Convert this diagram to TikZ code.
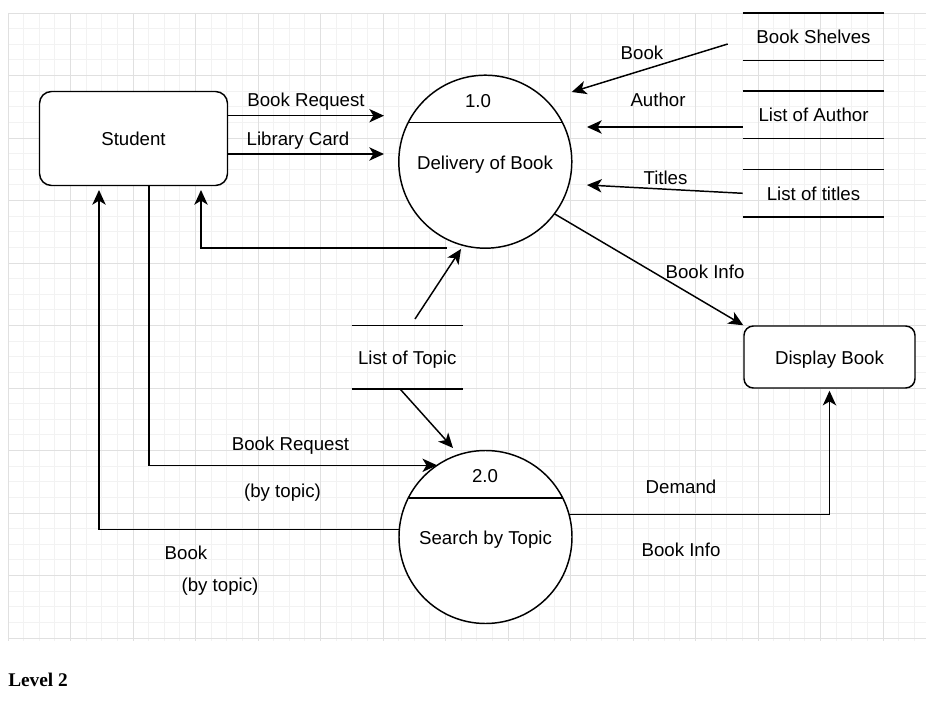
\documentclass[tikz,border=0pt]{standalone}
\usepackage{fontspec}
\setmainfont{Liberation Sans}
\newfontfamily\levelfont{Liberation Serif}
\usetikzlibrary{arrows.meta}
\definecolor{gridminor}{HTML}{F2F2F2}
\definecolor{gridmajor}{HTML}{E0E0E0}
\tikzset{
  minorline/.style={gridminor, line width=0.6pt},
  majorline/.style={gridmajor, line width=0.7pt},
  flow/.style={-{Stealth[length=11pt, width=10pt, inset=3pt]}, line width=1.1pt},
  entity/.style={draw, fill=white, rounded corners=9pt, line width=1.1pt},
  process/.style={draw, fill=white, circle, minimum size=129.75pt, inner sep=0pt, outer sep=0pt, line width=1.1pt},
  storeline/.style={draw, line width=1.1pt},
  store/.style={minimum width=105.75pt, minimum height=35.25pt, inner sep=0pt,
    append after command={(\tikzlastnode.north west) edge[storeline] (\tikzlastnode.north east)
      (\tikzlastnode.south west) edge[storeline] (\tikzlastnode.south east)}},
  every node/.append style={text height=13.3pt, text depth=2.5pt},
}
\begin{document}
\begin{tikzpicture}[x=0.75pt, y=-0.75pt, font=\fontsize{14}{16}\selectfont]
  \useasboundingbox (0,0) rectangle (933,724);
  % grid
  \foreach \i in {0,...,58}
    \draw[minorline] ({8+15.625*\i},13) -- ({8+15.625*\i},641);
  \foreach \j in {0,...,40}
    \draw[minorline] (8,{13+15.625*\j}) -- (926,{13+15.625*\j});
  \foreach \i in {0,...,14}
    \draw[majorline] ({8+62.5*\i},13) -- ({8+62.5*\i},641);
  \foreach \j in {0,...,10}
    \draw[majorline] (8,{13+62.5*\j}) -- (926,{13+62.5*\j});

  % entities
  \node[entity, minimum width=141pt, minimum height=70.5pt] (student) at (133.5,138.5) {Student};
  \node[entity, minimum width=128.25pt, minimum height=46.5pt, rounded corners=7pt] (display) at (829.5,357) {Display Book};

  % processes
  \node[process] (p1) at (485.3,161.7) {};
  \draw[line width=1.1pt] ([shift={(-77,-39)}]p1.center) -- ([shift={(77,-39)}]p1.center);
  \node (p1num) at (478,100) {1.0};
  \node (p1name) at (485,162) {Delivery of Book};
  \node[process] (p2) at (485.5,537) {};
  \draw[line width=1.1pt] ([shift={(-77,-39)}]p2.center) -- ([shift={(77,-39)}]p2.center);
  \node (p2num) at (485,475.5) {2.0};
  \node (p2name) at (485.5,537) {Search by Topic};

  % data stores
  \node[store] (shelves) at (813.5,36.8) {Book Shelves};
  \node[store] (authors) at (813.5,114.7) {List of Author};
  \node[store] (titles) at (813.5,193.3) {List of titles};
  \node[store, minimum width=83.25pt, minimum height=47pt] (topics) at (407.3,357.3) {List of Topic};

  % free ends
  \coordinate (req) at (384,115.7);
  \coordinate (card) at (384,154);
  \coordinate (bookout) at (727.7,44);
  \coordinate (bookin) at (571.7,92);
  \coordinate (authorin) at (587,127);
  \coordinate (titlesin) at (587,185);
  \coordinate (stud1) at (201,190);
  \coordinate (stud2) at (99,190);
  \coordinate (topicout) at (415,319);
  \coordinate (topicin1) at (461,249);
  \coordinate (topicin2) at (453,448);

  % flows
  \draw[flow] (student.east |- req) -- (req);
  \draw[flow] (student.east |- card) -- (card);
  \draw[flow] (bookout) -- (bookin);
  \draw[flow] (authors.west |- authorin) -- (authorin);
  \draw[flow] (titles.west) -- (titlesin);
  \draw[flow] ([xshift=-29pt]p1.south) -| (stud1);
  \draw[flow] (topicout) -- (topicin1);
  \draw[flow] ([xshift=-5.5pt]topics.south) -- (topicin2);
  \draw[flow] (p1.-37.5) -- (display.north west);
  \draw[flow] ([xshift=11.6pt]student.south) |- (p2.124.6);
  \draw[flow] (p2.175) -| (stud2);
  \draw[flow, shorten >=1.5pt] (p2.15.3) -| (display.south);

  % labels
  \node (lreq) at (306,99) {Book Request};
  \node (lcard) at (298,138) {Library Card};
  \node (lbook) at (642,52) {Book};
  \node (lauthor) at (658,99.5) {Author};
  \node (ltitles) at (665.5,177) {Titles};
  \node (linfo) at (705,271.5) {Book Info};
  \node (lreq2) at (290.5,443) {Book Request};
  \node (ltopic2) at (282.5,490.5) {(by topic)};
  \node (lbook2) at (186,552.5) {Book};
  \node (ltopic3) at (220,584) {(by topic)};
  \node (ldemand) at (681,486.7) {Demand};
  \node (linfo2) at (681,549) {Book Info};

  \node[font=\levelfont\bfseries\fontsize{14.5}{17}\selectfont, anchor=base west, inner sep=0pt, text height=, text depth=] (level) at (8,686) {Level 2};
\end{tikzpicture}
\end{document}
